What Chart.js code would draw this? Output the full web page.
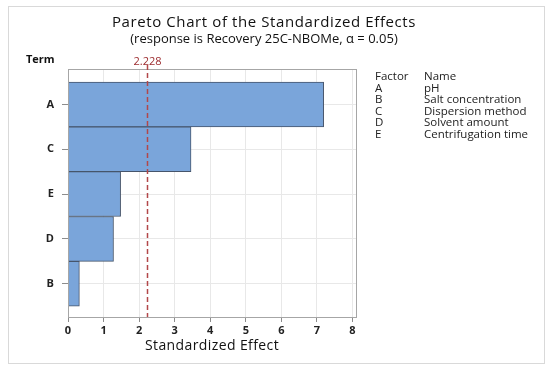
<!DOCTYPE html>
<html>
<head>
<meta charset="utf-8">
<script src="https://cdn.jsdelivr.net/npm/chart.js@4"></script>
<style>
  html, body { margin: 0; padding: 0; background: #fff; }
  #wrap { width: 550px; height: 370px; position: relative; }
</style>
</head>
<body>
<div id="wrap"><canvas id="paretoChart" width="550" height="370"></canvas></div>
<script>
// Pareto chart of the standardized effects
const terms = ["A", "C", "E", "D", "B"];
const effects = [7.19, 3.46, 1.48, 1.28, 0.32];
const xTicks = [0, 1, 2, 3, 4, 5, 6, 7, 8];
const critical = 2.228;
const factorCodes = ["A", "B", "C", "D", "E"];
const factorNames = ["pH", "Salt concentration", "Dispersion method", "Solvent amount", "Centrifugation time"];

const FONT = "'Open Sans', 'DejaVu Sans', sans-serif";

// extra drawing: frame, titles, reference line, legend table
const decorPlugin = {
  id: "decor",
  beforeDraw(chart) {
    const ctx = chart.ctx;
    ctx.save();
    ctx.fillStyle = "#fff";
    ctx.fillRect(0, 0, chart.width, chart.height);
    ctx.strokeStyle = "#d9d9d9";
    ctx.lineWidth = 1;
    ctx.strokeRect(8.5, 6.5, 536, 357);
    ctx.restore();
  },
  afterDatasetsDraw(chart) {
    const ctx = chart.ctx;
    const a = chart.chartArea;
    const xs = chart.scales.x;
    ctx.save();
    // plot frame
    ctx.strokeStyle = "#a6a6a6";
    ctx.lineWidth = 1;
    ctx.strokeRect(Math.round(a.left) + 0.5, Math.round(a.top) + 0.5,
      Math.round(a.right - a.left), Math.round(a.bottom - a.top));

    // critical value line
    const cx = Math.round(xs.getPixelForValue(critical)) + 0.5;
    ctx.strokeStyle = "#b2474a";
    ctx.lineWidth = 1.5;
    ctx.setLineDash([5, 3]);
    ctx.beginPath();
    ctx.moveTo(cx, a.top - 4);
    ctx.lineTo(cx, a.bottom);
    ctx.stroke();
    ctx.setLineDash([]);
    ctx.fillStyle = "#9c2b2e";
    ctx.font = "11px " + FONT;
    ctx.textAlign = "center";
    ctx.textBaseline = "middle";
    ctx.fillText(critical.toFixed(3), cx, 62);

    // titles
    ctx.fillStyle = "#111";
    ctx.letterSpacing = "0.6px";
    ctx.font = "15px " + FONT;
    ctx.fillText("Pareto Chart of the Standardized Effects", 264, 23);
    ctx.letterSpacing = "0px";
    ctx.font = "13px " + FONT;
    ctx.fillText("(response is Recovery 25C-NBOMe, \u03b1 = 0.05)", 264, 39);

    // axis titles
    ctx.letterSpacing = "0.4px";
    ctx.font = "14px " + FONT;
    ctx.fillText("Standardized Effect", (a.left + a.right) / 2, 346);
    ctx.letterSpacing = "0px";
    ctx.font = "bold 11px " + FONT;
    ctx.textAlign = "left";
    ctx.fillText("Term", 26, 60);

    // factor table
    ctx.font = "11.5px " + FONT;
    ctx.fillStyle = "#222";
    ctx.fillText("Factor", 375, 77);
    ctx.fillText("Name", 424, 77);
    factorCodes.forEach((c, i) => {
      const y = 88.5 + i * 11.5;
      ctx.fillText(c, 375, y);
      ctx.fillText(factorNames[i], 424, y);
    });
    ctx.restore();
  }
};

const paretoConfig = {
  type: "bar",
  data: {
    datasets: [
      {
        data: effects.map((v, i) => ({ x: v, y: i })),
        backgroundColor: "#7aa5da",
        borderColor: "#46556b",
        borderWidth: 1,
        barPercentage: 1,
        categoryPercentage: 1,
      },
    ],
  },
  options: {
    indexAxis: "y",
    responsive: false,
    animation: false,
    layout: {
      padding: { top: 69, right: 194, bottom: 13, left: 0 },
    },
    plugins: {
      legend: { display: false },
      tooltip: { enabled: false },
    },
    scales: {
      x: {
        type: "linear",
        min: 0,
        max: 8.1,
        offset: false,
        afterBuildTicks(scale) {
          scale.ticks = xTicks.map((v) => ({ value: v }));
        },
        afterFit(scale) {
          scale.height = 40;
        },
        grid: {
          offset: false,
          color: "#e8e8e8",
          tickColor: "#8c8c8c",
          tickLength: 5,
        },
        border: { color: "#a6a6a6" },
        ticks: {
          color: "#222",
          padding: 2,
          font: { family: FONT, size: 11, weight: "bold" },
        },
      },
      y: {
        type: "linear",
        reverse: true,
        offset: false,
        min: -0.79,
        max: 4.74,
        afterBuildTicks(scale) {
          scale.ticks = terms.map((t, i) => ({ value: i }));
        },
        afterFit(scale) {
          scale.width = 68;
        },
        grid: {
          offset: false,
          color: "#e8e8e8",
          tickColor: "#8c8c8c",
          tickLength: 6,
        },
        border: { color: "#a6a6a6" },
        ticks: {
          color: "#222",
          padding: 8,
          font: { family: FONT, size: 11, weight: "bold" },
          callback: (v) => terms[v] || "",
        },
      },
    },
  },
  plugins: [decorPlugin],
};

document.addEventListener("DOMContentLoaded", () => {
  const paretoChart = new Chart("paretoChart", paretoConfig);
});
</script>
</body>
</html>
